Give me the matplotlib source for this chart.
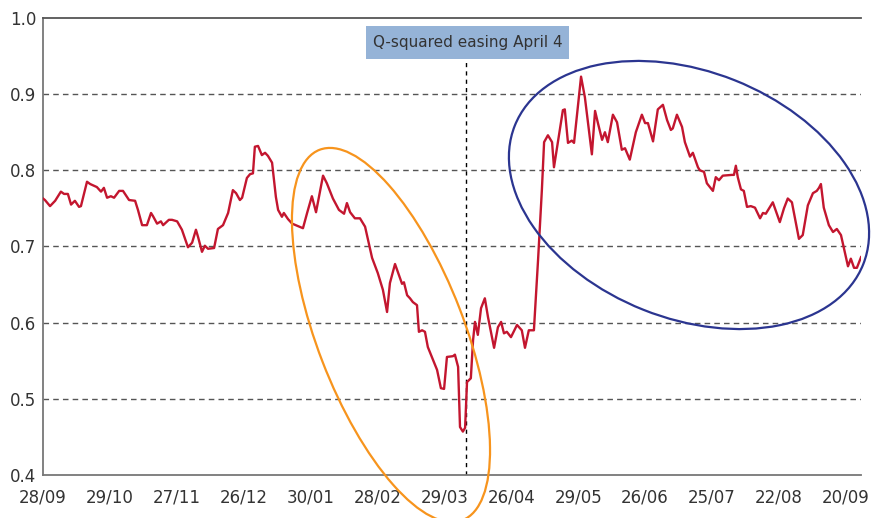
import matplotlib
matplotlib.use("Agg")
from matplotlib import pyplot as plt
from matplotlib import font_manager
from matplotlib.patches import Ellipse, Rectangle
from matplotlib.transforms import IdentityTransform

# trading-day index and ratio
day = [0.0, 0.6, 2.2, 3.8, 5.6, 6.6, 7.8, 8.8, 10.0, 11.3, 11.9, 13.8, 14.8, 16.9, 18.2, 19.1,
       20.1, 21.3, 22.3, 23.9, 25.1, 27.0, 28.9, 29.8, 31.1, 32.6, 33.9, 34.5, 35.8, 37.0, 37.7,
       39.5, 40.5, 42.1, 43.6, 45.5, 46.8, 48.0, 48.7, 49.9, 50.8, 51.8, 53.7, 54.9, 56.5, 58.1,
       59.6, 60.6, 61.8, 62.5, 64.0, 65.0, 65.9, 66.5, 67.5, 68.7, 69.7, 70.6, 71.9, 73.1, 73.8,
       75.0, 75.6, 76.9, 78.2, 81.6, 82.9, 84.4, 85.7, 87.9, 89.1, 91.0, 92.9, 94.5, 95.4, 96.4,
       97.9, 99.5, 101.1, 103.3, 105.1, 106.7, 108.0, 108.9, 110.5, 111.7, 112.7, 113.3, 114.3,
       115.2, 116.1, 117.4, 118.0, 119.0, 119.9, 120.8, 123.7, 124.9, 125.9, 126.8, 128.7, 129.3,
       130.3, 130.9, 131.8, 132.5, 133.1, 134.3, 135.0, 135.6, 136.5, 137.5, 138.7, 139.7, 141.6,
       142.8, 143.8, 144.7, 145.6, 146.9, 148.8, 150.3, 151.3, 152.5, 154.1, 155.4, 156.6, 157.3,
       158.5, 159.8, 160.4, 161.6, 163.2, 163.8, 164.8, 166.0, 166.7, 168.9, 170.1, 172.3, 173.3,
       174.2, 175.5, 176.4, 177.3, 178.9, 180.2, 181.7, 182.7, 184.2, 186.1, 188.0, 189.0, 189.9,
       191.5, 193.0, 194.6, 195.9, 197.1, 197.7, 199.0, 200.6, 201.5, 203.1, 204.0, 205.6, 206.2,
       207.5, 208.4, 210.3, 211.2, 212.2, 213.4, 216.3, 216.9, 217.5, 218.1, 219.1, 220.0, 221.0,
       222.2, 223.5, 225.1, 226.0, 226.9, 229.1, 231.3, 232.6, 233.8, 235.1, 237.3, 238.5, 240.1,
       241.7, 242.9, 243.6, 244.2, 245.1, 246.7, 248.0, 249.2, 250.5, 251.4, 252.7, 253.6, 254.6,
       255.5, 256.8]
ratio = [0.763, 0.761, 0.753, 0.760, 0.772, 0.769, 0.769, 0.755, 0.760, 0.752, 0.753, 0.785, 0.782,
         0.778, 0.772, 0.777, 0.764, 0.766, 0.764, 0.773, 0.773, 0.761, 0.760, 0.748, 0.728, 0.728,
         0.744, 0.740, 0.730, 0.733, 0.728, 0.735, 0.735, 0.733, 0.722, 0.699, 0.705, 0.722, 0.712,
         0.693, 0.701, 0.697, 0.698, 0.723, 0.728, 0.744, 0.774, 0.770, 0.761, 0.764, 0.790, 0.795,
         0.796, 0.831, 0.832, 0.820, 0.823, 0.819, 0.810, 0.765, 0.748, 0.739, 0.744, 0.736, 0.730,
         0.724, 0.744, 0.766, 0.745, 0.793, 0.783, 0.763, 0.748, 0.743, 0.757, 0.745, 0.737, 0.737,
         0.726, 0.685, 0.665, 0.643, 0.614, 0.652, 0.677, 0.663, 0.651, 0.653, 0.636, 0.632, 0.627,
         0.623, 0.588, 0.590, 0.588, 0.568, 0.538, 0.514, 0.513, 0.555, 0.556, 0.558, 0.542, 0.463,
         0.457, 0.462, 0.522, 0.527, 0.577, 0.601, 0.584, 0.619, 0.632, 0.607, 0.567, 0.594, 0.601,
         0.586, 0.588, 0.581, 0.597, 0.590, 0.567, 0.590, 0.590, 0.682, 0.774, 0.837, 0.846, 0.837,
         0.804, 0.836, 0.879, 0.880, 0.836, 0.839, 0.836, 0.923, 0.896, 0.821, 0.878, 0.862, 0.840,
         0.850, 0.837, 0.873, 0.863, 0.827, 0.829, 0.814, 0.850, 0.873, 0.862, 0.862, 0.838, 0.880,
         0.886, 0.866, 0.853, 0.855, 0.873, 0.857, 0.837, 0.818, 0.823, 0.804, 0.800, 0.798, 0.783,
         0.773, 0.791, 0.787, 0.793, 0.794, 0.794, 0.806, 0.791, 0.775, 0.773, 0.752, 0.753, 0.751,
         0.737, 0.744, 0.743, 0.758, 0.732, 0.750, 0.763, 0.758, 0.710, 0.715, 0.754, 0.770, 0.773,
         0.777, 0.782, 0.751, 0.728, 0.719, 0.723, 0.715, 0.698, 0.674, 0.684, 0.672, 0.672, 0.686]

tick_days = [0, 21, 42, 63, 84, 105, 126, 147, 168, 189, 210, 231, 252]
tick_labels = ["28/09", "29/10", "27/11", "26/12", "30/01", "28/02", "29/03",
               "26/04", "29/05", "26/06", "25/07", "22/08", "20/09"]
easing_day = 132.8
easing_label = "Q-squared easing April 4"

installed = {f.name for f in font_manager.fontManager.ttflist}
if "Liberation Sans Narrow" in installed:
    box_font, box_size = "Liberation Sans Narrow", 14.5
else:
    box_font, box_size = "DejaVu Sans", 11

fig = plt.figure(figsize=(8.73, 5.18), dpi=100)
ax = fig.add_axes([0.0493, 0.083, 0.9370, 0.8823])

ax.plot(day, ratio, color="#c3162f", lw=1.7, zorder=3)

ax.set_xlim(0, 256.8)
ax.set_ylim(0.4, 1.0)
ax.set_yticks([0.4, 0.5, 0.6, 0.7, 0.8, 0.9, 1.0])
ax.set_yticklabels(["0.4", "0.5", "0.6", "0.7", "0.8", "0.9", "1.0"])
ax.set_xticks(tick_days)
ax.set_xticklabels(tick_labels)
ax.tick_params(axis="both", length=0, labelsize=12, labelcolor="#333333")
ax.tick_params(axis="x", pad=10)
ax.tick_params(axis="y", pad=5)

for v in [0.5, 0.6, 0.7, 0.8, 0.9]:
    ax.axhline(v, color="#555555", lw=1.0, ls=(0, (4, 3)), zorder=1)

for side in ["left", "bottom", "top"]:
    ax.spines[side].set_color("#777777")
    ax.spines[side].set_linewidth(1.3)
ax.spines["top"].set_color("#555555")
ax.spines["right"].set_visible(False)

ax.vlines(easing_day, 0.4, 0.945, color="black", lw=1.0, ls=(0, (3, 3)), zorder=2)

# label box
ax.add_patch(Rectangle((101.4, 0.946), 63.7, 0.0435, facecolor="#95b3d7",
                       edgecolor="none", zorder=4))
ax.text(133.2, 0.9675, easing_label, ha="center", va="center", fontsize=box_size,
        family=[box_font, "DejaVu Sans"], color="#333333", zorder=5)

# highlight ellipses, in pixel space
fig.add_artist(Ellipse((391, 518 - 335), 397, 147, angle=-68.9, fill=False,
                       edgecolor="#f7941d", lw=1.6, transform=IdentityTransform(), zorder=6))
fig.add_artist(Ellipse((689, 518 - 195), 375, 247, angle=-21.7, fill=False,
                       edgecolor="#2b3590", lw=1.6, transform=IdentityTransform(), zorder=6))

fig.savefig("out.png", dpi=100)
